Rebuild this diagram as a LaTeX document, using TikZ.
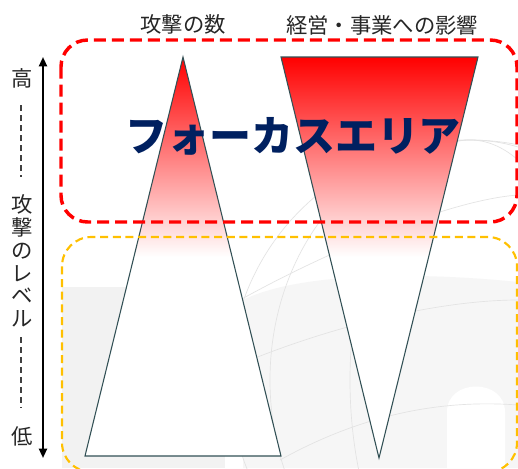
\documentclass[tikz,border=0pt]{standalone}
\usepackage{fontspec}
\setmainfont{Noto Sans CJK JP}
\usepackage{xcolor}
\usetikzlibrary{arrows.meta}
\definecolor{focusred}{RGB}{255,0,0}
\definecolor{lowyellow}{RGB}{255,192,0}
\definecolor{edgeteal}{RGB}{50,80,85}
\definecolor{areanavy}{RGB}{0,32,96}

\begin{document}
\begin{tikzpicture}[x=0.75pt,y=-0.75pt,
  lbl/.style={font=\fontsize{16}{17}\selectfont, text=black!85, inner sep=0pt},
  tri/.style={draw=edgeteal, line width=0.8pt},
  levdash/.style={black!75, line width=1pt, dash pattern=on 4.5pt off 3pt},
  globe/.style={gray!22, line width=0.5pt}]
\useasboundingbox (0,0) rectangle (518,468);
\fill[white] (0,0) rectangle (518,468);
% background picture
\begin{scope}
 \clip (0,0) rectangle (518,468);
 \fill[gray!10] (62,287) rectangle (225,468);
 \fill[gray!7] (243,468) -- (243,300) .. controls (300,272) and (420,272) .. (518,282) -- (518,468) -- cycle;
 \fill[white] (447,468) -- (447,412) .. controls (447,378) and (505,378) .. (505,412) -- (505,468) -- cycle;
 \draw[globe] (470,380) circle[radius=240];
 \draw[globe] (470,380) ellipse[x radius=120, y radius=240];
 \draw[globe] (470,380) ellipse[x radius=200, y radius=240];
 \draw[globe] (240,300) .. controls (330,250) and (450,200) .. (518,195);
 \draw[globe] (250,360) .. controls (350,320) and (450,300) .. (518,300);
 \draw[globe] (280,460) .. controls (370,410) and (450,400) .. (518,405);
\end{scope}
% triangles
\coordinate (cnt-top) at (183,57);
\coordinate (cnt-left) at (85,456);
\coordinate (cnt-right) at (281,456);
\coordinate (imp-left) at (281,57);
\coordinate (imp-right) at (478,57);
\coordinate (imp-bottom) at (379,458);
\begin{scope}
 \clip (cnt-top) -- (cnt-right) -- (cnt-left) -- cycle;
 \fill[white] (60,40) rectangle (520,468);
 \shade[top color=focusred, bottom color=white] (60,57) rectangle (520,257);
\end{scope}
\begin{scope}
 \clip (imp-left) -- (imp-right) -- (imp-bottom) -- cycle;
 \fill[white] (60,40) rectangle (520,468);
 \shade[top color=focusred, bottom color=white] (60,57) rectangle (520,257);
\end{scope}
\draw[tri] (cnt-top) -- (cnt-right) -- (cnt-left) -- cycle;
\draw[tri] (imp-left) -- (imp-right) -- (imp-bottom) -- cycle;
% areas
\draw[lowyellow, line width=1.6pt, dash pattern=on 6pt off 3.5pt, rounded corners=22pt] (62,237) rectangle (517,472);
\draw[focusred, line width=2.6pt, dash pattern=on 9pt off 4.5pt, rounded corners=20pt] (61,40) rectangle (517,222);
\node[font=\fontsize{31.5}{32}\selectfont\bfseries, text=areanavy, inner sep=0pt, anchor=base] (focus) at (293,151) {フォーカスエリア};
% titles
\node[lbl, anchor=base] (lbl-count) at (183,32) {攻撃の数};
\node[lbl, anchor=base] (lbl-impact) at (382,33) {経営・事業への影響};
% level axis
\coordinate (axis-top) at (43,57);
\coordinate (axis-bottom) at (43,458);
\draw[{Triangle[width=6pt,length=7pt]}-{Triangle[width=6pt,length=7pt]}, line width=1.5pt] (axis-top) -- (axis-bottom);
\node[lbl] (lvl-high) at (22,78) {高};
\node[lbl, align=center, font=\fontsize{16}{17.1}\selectfont] (lvl-name) at (22,261) {攻\\撃\\の\\レ\\ベ\\ル};
\node[lbl] (lvl-low) at (22,436) {低};
\coordinate (dash1-a) at (21,105);
\coordinate (dash1-b) at (21,177);
\coordinate (dash2-a) at (21,337);
\coordinate (dash2-b) at (21,408);
\draw[levdash] (dash1-a) -- (dash1-b);
\draw[levdash] (dash2-a) -- (dash2-b);
\end{tikzpicture}
\end{document}
